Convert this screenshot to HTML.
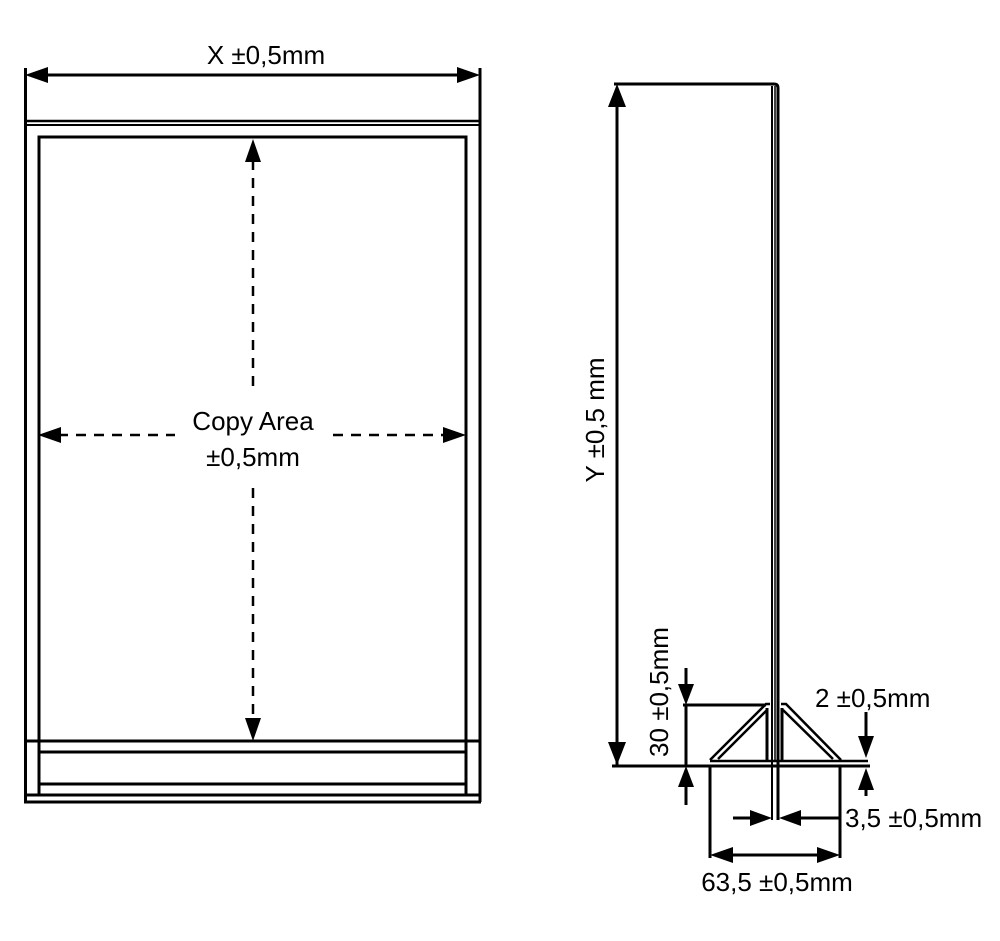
<!DOCTYPE html>
<html><head><meta charset="utf-8"><style>
html,body{margin:0;padding:0;background:#fff;}
svg{display:block;font-family:"Liberation Sans",sans-serif;}
</style></head><body>
<svg width="1000" height="941" viewBox="0 0 1000 941" xmlns="http://www.w3.org/2000/svg">
<g stroke="#000" fill="none" stroke-width="3">
  <line x1="25.5" y1="68" x2="25.5" y2="802"/>
  <line x1="480" y1="68" x2="480" y2="802"/>
  <line x1="24" y1="121" x2="481" y2="121" stroke-width="2.5"/>
  <line x1="24" y1="125" x2="481" y2="125" stroke-width="2"/>
  <rect x="39" y="137" width="427" height="658"/>
  <line x1="24" y1="741" x2="481" y2="741"/>
  <line x1="39" y1="752" x2="466" y2="752"/>
  <line x1="39" y1="784" x2="466" y2="784"/>
  <line x1="24" y1="795" x2="481" y2="795"/>
  <line x1="24" y1="802" x2="481" y2="802"/>
  <line x1="45" y1="75" x2="460" y2="75"/>
  <line x1="253" y1="160" x2="253" y2="392" stroke-dasharray="10,8" stroke-width="2.5"/>
  <line x1="253" y1="488" x2="253" y2="720" stroke-dasharray="10,8" stroke-width="2.5"/>
  <line x1="58" y1="435" x2="175" y2="435" stroke-dasharray="10,8" stroke-width="2.5"/>
  <line x1="333" y1="435" x2="446" y2="435" stroke-dasharray="10,8" stroke-width="2.5"/>
  <path d="M614 84 H774 Q778 84 778 88 V820"/>
  <line x1="772" y1="86" x2="772" y2="820" stroke-width="2"/>
  <line x1="775" y1="86" x2="775" y2="760" stroke-width="1.5"/>
  <line x1="617" y1="100" x2="617" y2="765"/>
  <line x1="612" y1="766" x2="870" y2="766"/>
  <line x1="710" y1="761" x2="868" y2="761" stroke-width="2.5"/>
  <path d="M770 704 L766 704 L710 760" stroke-width="2.5"/>
  <path d="M767 710 L718 759" stroke-width="2.5"/>
  <path d="M781 704 L786 704 L841 760" stroke-width="2.5"/>
  <path d="M783 710 L833 759" stroke-width="2.5"/>
  <line x1="767" y1="708" x2="767" y2="760"/>
  <line x1="782" y1="708" x2="782" y2="760"/>
  <line x1="683" y1="705" x2="766" y2="705"/>
  <line x1="686" y1="668" x2="686" y2="690"/>
  <line x1="686" y1="705" x2="686" y2="766"/>
  <line x1="686" y1="780" x2="686" y2="805"/>
  <line x1="866" y1="712" x2="866" y2="745"/>
  <line x1="866" y1="780" x2="866" y2="796"/>
  <line x1="733" y1="818" x2="760" y2="818"/>
  <line x1="795" y1="818" x2="840" y2="818"/>
  <line x1="710" y1="766" x2="710" y2="858"/>
  <line x1="840" y1="766" x2="840" y2="858"/>
  <line x1="725" y1="855" x2="825" y2="855"/>
</g>
<g fill="#000">
  <polygon points="25,75 48,67 48,83"/>
  <polygon points="480,75 457,67 457,83"/>
  <polygon points="253,139 245,162 261,162"/>
  <polygon points="253,741 245,718 261,718"/>
  <polygon points="38,435 61,427 61,443"/>
  <polygon points="466,435 443,427 443,443"/>
  <polygon points="617,84 608,107 626,107"/>
  <polygon points="617,765 608,742 626,742"/>
  <polygon points="686,705 678,684 694,684"/>
  <polygon points="686,766 678,787 694,787"/>
  <polygon points="866,758 858,736 874,736"/>
  <polygon points="866,768 858,790 874,790"/>
  <polygon points="772,818 750,810 750,826"/>
  <polygon points="779,818 801,810 801,826"/>
  <polygon points="710,855 733,847 733,863"/>
  <polygon points="840,855 817,847 817,863"/>
</g>
<g fill="#000" font-size="26">
  <text x="266" y="64" text-anchor="middle">X ±0,5mm</text>
  <text x="253" y="430" text-anchor="middle">Copy Area</text>
  <text x="253" y="466" text-anchor="middle">±0,5mm</text>
  <text transform="translate(604,420) rotate(-90)" text-anchor="middle">Y ±0,5 mm</text>
  <text transform="translate(668,692) rotate(-90)" text-anchor="middle">30 ±0,5mm</text>
  <text x="815" y="707">2 ±0,5mm</text>
  <text x="845" y="827">3,5 ±0,5mm</text>
  <text x="777" y="891" text-anchor="middle">63,5 ±0,5mm</text>
</g>
</svg>
</body></html>
